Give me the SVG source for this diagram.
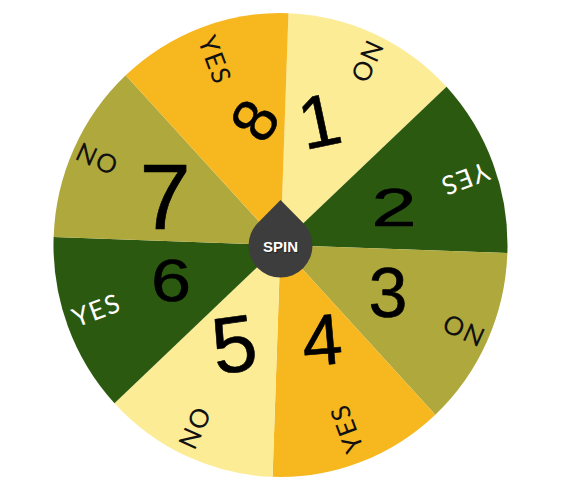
<svg xmlns="http://www.w3.org/2000/svg" width="562" height="490" viewBox="0 0 562 490">
<style>
.ly{fill:#FCEC96}.dg{fill:#2C5910}.ol{fill:#AFA83C}.or{fill:#F7B71F}
.lbl{font-family:Lato,"Open Sans",sans-serif;font-size:26px;letter-spacing:1.5px;text-anchor:middle}
.dk{fill:#111}.wh{fill:#fff}
.dig{font-family:"Liberation Sans",Arial,sans-serif;text-anchor:middle;fill:#000;stroke:#000;stroke-width:0.6;stroke-linejoin:round}
</style>
<rect width="562" height="490" fill="#fff"/>
<g id="seg1"><path class="ly" d="M280.5,245 L288.42,13.14 A227,232 0 0 1 446.53,86.78 Z"/>
<text class="lbl dk" dy="0.36em" transform="translate(367,62) rotate(114.5)">NO</text>
<text class="dig" font-size="74" dy="0.36em" transform="translate(319,120) rotate(-12)">1</text></g>
<g id="seg2"><path class="dg" d="M280.5,245 L446.53,86.78 A227,232 0 0 1 507.36,253.1 Z"/>
<text class="lbl wh" dy="0.36em" transform="translate(465,179) rotate(159.5)">YES</text>
<text class="dig" font-size="54" dy="0.36em" transform="translate(394,207) scale(1.5,1)">2</text></g>
<g id="seg3"><path class="ol" d="M280.5,245 L507.36,253.1 A227,232 0 0 1 435.31,414.68 Z"/>
<text class="lbl dk" dy="0.36em" transform="translate(463,330) rotate(204.5)">NO</text>
<text class="dig" font-size="70" dy="0.36em" transform="translate(388,292)">3</text></g>
<g id="seg4"><path class="or" d="M280.5,245 L435.31,414.68 A227,232 0 0 1 272.58,476.86 Z"/>
<text class="lbl dk" dy="0.36em" transform="translate(346.5,428.5) rotate(249.5)">YES</text>
<text class="dig" font-size="72" dy="0.36em" transform="translate(322,339) rotate(-5)">4</text></g>
<g id="seg5"><path class="ly" d="M280.5,245 L272.58,476.86 A227,232 0 0 1 114.47,403.22 Z"/>
<text class="lbl dk" dy="0.36em" transform="translate(195,427.5) rotate(294.5)">NO</text>
<text class="dig" font-size="80" dy="0.36em" transform="translate(234,343) rotate(-8)">5</text></g>
<g id="seg6"><path class="dg" d="M280.5,245 L114.47,403.22 A227,232 0 0 1 53.64,236.9 Z"/>
<text class="lbl wh" dy="0.36em" transform="translate(96.5,310) rotate(339.5)">YES</text>
<text class="dig" font-size="60" dy="0.36em" transform="translate(171,279) scale(1.2,1)">6</text></g>
<g id="seg7"><path class="ol" d="M280.5,245 L53.64,236.9 A227,232 0 0 1 125.69,75.32 Z"/>
<text class="lbl dk" dy="0.36em" transform="translate(97.5,159) rotate(24.5)">NO</text>
<text class="dig" font-size="92" dy="0.36em" transform="translate(165,196)">7</text></g>
<g id="seg8"><path class="or" d="M280.5,245 L125.69,75.32 A227,232 0 0 1 288.42,13.14 Z"/>
<text class="lbl dk" dy="0.36em" transform="translate(215,60) rotate(69.5)">YES</text>
<text class="dig" font-size="62" dy="0.36em" transform="translate(254,120) rotate(-60)">8</text></g>
<g id="connectors"></g>
<g id="spin">
<path d="M280.5,200 L303.2,223 A32,32 0 1 1 257.8,223 Z" fill="#3D3D3D"/>
<text x="281.5" y="252.5" font-family="'Liberation Sans',Arial,sans-serif" font-size="15" font-weight="bold" text-anchor="middle" fill="#222">SPIN</text>
<text x="280.5" y="251.5" font-family="'Liberation Sans',Arial,sans-serif" font-size="15" font-weight="bold" text-anchor="middle" fill="#fff">SPIN</text>
</g>
</svg>
